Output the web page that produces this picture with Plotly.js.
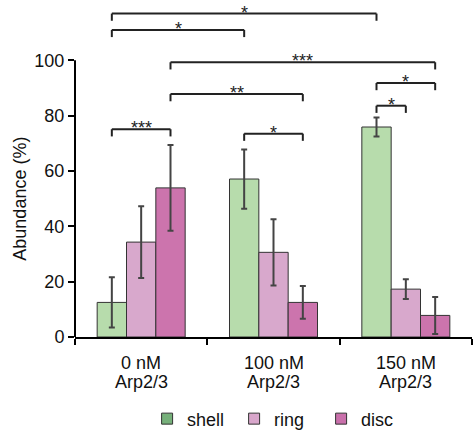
<!DOCTYPE html>
<html>
<head>
<meta charset="utf-8">
<script src="https://cdn.plot.ly/plotly-3.0.1.min.js"></script>
<style>html,body{margin:0;padding:0;background:#fff;}#chart{width:473px;height:431px;}</style>
</head>
<body>
<div id="chart"></div>
<script>
// ---- data ----
var categories = ["0 nM", "100 nM", "150 nM"];
var categorySub = ["Arp2/3", "Arp2/3", "Arp2/3"];
var seriesNames = ["shell", "ring", "disc"];
var shellValues = [12.5, 57.1, 75.9];
var shellErrors = [9.1, 10.7, 3.4];
var ringValues = [34.3, 30.6, 17.3];
var ringErrors = [13.0, 12.0, 3.6];
var discValues = [53.9, 12.5, 7.8];
var discErrors = [15.5, 5.9, 6.7];
var yTicks = [0, 20, 40, 60, 80, 100];
// significance brackets: [fromGroup, fromSeries, toGroup, toSeries, level, label]
var bracketFromGroup = [0, 1, 0, 0, 2, 2, 0, 0];
var bracketFromSeries = [0, 0, 2, 2, 0, 0, 0, 0];
var bracketToGroup = [0, 1, 1, 2, 2, 2, 2, 1];
var bracketToSeries = [2, 2, 2, 2, 2, 1, 0, 0];
var bracketLevel = [75.1, 73.5, 87.8, 99.3, 91.8, 83.6, 116.9, 111.0];
var bracketLabel = ["***", "*", "**", "***", "*", "*", "*", "*"];

// ---- styles ----
var barColors = ["#b7dcac", "#d8a8cc", "#cc74ad"];
var legendColors = ["#76b07a", "#d8a6cb", "#c970ab"];
var FONT = "Liberation Sans, Arial, sans-serif";
var values = [shellValues, ringValues, discValues];
var errors = [shellErrors, ringErrors, discErrors];
var bargap = 0.335;
var barW = (1 - bargap) / 3;
var legDrop = 2.6;

var traces = [];
for (var s = 0; s < 3; s++) {
  traces.push({
    type: "bar", x: categories, y: values[s], name: seriesNames[s], showlegend: false,
    marker: {color: barColors[s], line: {color: "#333333", width: 1}},
    error_y: {type: "data", array: errors[s], visible: true, color: "#444444", thickness: 2, width: 3}
  });
}
for (var s2 = 0; s2 < 3; s2++) {
  traces.push({
    type: "scatter", mode: "markers", x: [null], y: [null], name: seriesNames[s2], showlegend: true,
    marker: {symbol: "square", size: 11, color: legendColors[s2], line: {color: "#333333", width: 1}}
  });
}

function barX(g, s) { return g + (s - 1) * barW; }

var shapes = [];
var annotations = [];
// y axis line 0..100
shapes.push({type: "line", xref: "paper", yref: "y", x0: 0, x1: 0, y0: 0, y1: 100, line: {color: "#000", width: 2}});
for (var b = 0; b < bracketLevel.length; b++) {
  var xa = barX(bracketFromGroup[b], bracketFromSeries[b]);
  var xb = barX(bracketToGroup[b], bracketToSeries[b]);
  var yl = bracketLevel[b];
  var ln = {color: "#222222", width: 2};
  shapes.push({type: "line", xref: "x", yref: "y", x0: xa, x1: xb, y0: yl, y1: yl, line: ln});
  shapes.push({type: "line", xref: "x", yref: "y", x0: xa, x1: xa, y0: yl, y1: yl - legDrop, line: ln});
  shapes.push({type: "line", xref: "x", yref: "y", x0: xb, x1: xb, y0: yl, y1: yl - legDrop, line: ln});
  annotations.push({xref: "x", yref: "y", x: (xa + xb) / 2, y: yl, text: bracketLabel[b], showarrow: false,
    xanchor: "center", yanchor: "middle", yshift: 1, font: {family: FONT, size: 18, color: "#222"}});
}
for (var c = 0; c < categories.length; c++) {
  annotations.push({xref: "x", yref: "paper", x: c, y: 0, text: categories[c], showarrow: false,
    xanchor: "center", yanchor: "top", yshift: -14, font: {family: FONT, size: 18, color: "#111"}});
  annotations.push({xref: "x", yref: "paper", x: c, y: 0, text: categorySub[c], showarrow: false,
    xanchor: "center", yanchor: "top", yshift: -33, font: {family: FONT, size: 18, color: "#111"}});
}
annotations.push({xref: "paper", yref: "y", x: 0, y: 50, text: "Abundance (%)", showarrow: false, textangle: -90,
  xanchor: "center", yanchor: "middle", xshift: -55, font: {family: FONT, size: 18, color: "#111"}});

var layout = {
  width: 473, height: 431,
  margin: {l: 75, r: 1, t: 5, b: 94, autoexpand: false},
  paper_bgcolor: "#fff", plot_bgcolor: "#fff",
  barmode: "group", bargap: bargap, bargroupgap: 0,
  font: {family: FONT, size: 18, color: "#111"},
  xaxis: {type: "category", range: [-0.5, 2.5], showline: true, linecolor: "#000", linewidth: 2,
    ticks: "outside", tickson: "boundaries", ticklen: 6, tickwidth: 2, tickcolor: "#000",
    showticklabels: false, showgrid: false, zeroline: false, fixedrange: true, automargin: false},
  yaxis: {range: [0, 120], showline: false, ticks: "outside", tickvals: yTicks, ticktext: yTicks.map(String),
    ticklen: 6, tickwidth: 2, tickcolor: "#000", showgrid: false, zeroline: false, automargin: false,
    tickfont: {family: FONT, size: 18, color: "#111"}, fixedrange: true},
  showlegend: true,
  legend: {orientation: "h", xref: "container", yref: "container", x: 0.311, xanchor: "left", y: 0.028, yanchor: "middle",
    entrywidth: 42, entrywidthmode: "pixels",
    font: {family: FONT, size: 18, color: "#111"}, itemclick: false, bgcolor: "rgba(0,0,0,0)"},
  shapes: shapes, annotations: annotations
};
Plotly.newPlot("chart", traces, layout, {staticPlot: true, displayModeBar: false});
</script>
</body>
</html>
